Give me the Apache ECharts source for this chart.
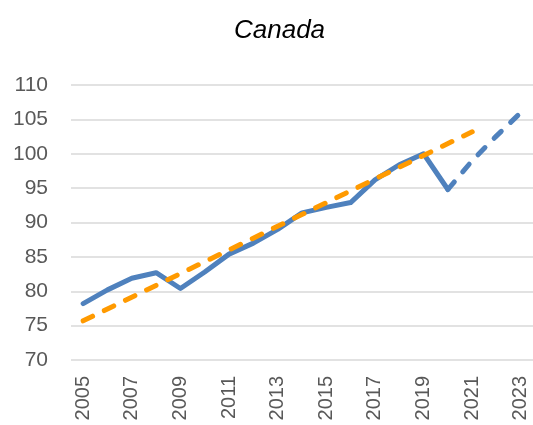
<!DOCTYPE html>
<html>
<head>
<meta charset="utf-8">
<style>
  html, body { margin: 0; padding: 0; background: #ffffff; }
  #chart { width: 533px; height: 425px; }
</style>
<script src="https://cdn.jsdelivr.net/npm/echarts@6/dist/echarts.min.js"></script>
</head>
<body>
<div id="chart"></div>
<script>
// Years on the horizontal axis
const years = ['2005','2006','2007','2008','2009','2010','2011','2012','2013','2014',
               '2015','2016','2017','2018','2019','2020','2021','2022','2023'];

// Observed index, 2005-2020
const actual = [78.2, 80.2, 81.9, 82.7, 80.4, 82.8, 85.4, 87.0, 89.0, 91.4,
                92.2, 92.9, 96.2, 98.4, 100.0, 94.8, null, null, null];

// Projected path, 2020-2023
const projected = [null, null, null, null, null, null, null, null, null, null,
                   null, null, null, null, null, 94.8, 99.0, 102.6, 106.0];

// Linear trend, 2005-2021 (endpoints; straight line between them)
const trend = [75.7, null, null, null, null, null, null, null, null, null,
               null, null, null, null, null, null, 103.2, null, null];

// Value axis range
const yMin = 70, yMax = 110, yStep = 5;

const blue = '#4f81bd';
const orange = '#ff9a00';
const labelColor = '#595959';
const font = '"Liberation Sans", Arial, sans-serif';

const chart = echarts.init(document.getElementById('chart'), null, { renderer: 'canvas' });

chart.setOption({
  animation: false,
  backgroundColor: '#ffffff',
  title: {
    text: 'Canada',
    left: 229,
    top: 13,
    textStyle: {
      fontFamily: font,
      fontStyle: 'italic',
      fontWeight: 'normal',
      fontSize: 26,
      color: '#000000'
    }
  },
  grid: { left: 71, right: 0, top: 85, bottom: 65, containLabel: false },
  xAxis: {
    type: 'category',
    data: years,
    boundaryGap: true,
    axisLine: { show: false },
    axisTick: { show: false },
    axisLabel: {
      interval: 1,
      rotate: 90,
      margin: 16,
      color: labelColor,
      fontFamily: font,
      fontSize: 20
    }
  },
  yAxis: {
    type: 'value',
    min: yMin,
    max: yMax,
    interval: yStep,
    axisLine: { show: false },
    axisTick: { show: false },
    axisLabel: {
      margin: 23,
      color: labelColor,
      fontFamily: font,
      fontSize: 21
    },
    splitLine: { lineStyle: { color: '#d9d9d9', width: 1.5 } }
  },
  series: [
    {
      name: 'Actual',
      type: 'line',
      data: actual,
      symbol: 'none',
      lineStyle: { color: blue, width: 5, join: 'round', cap: 'round' },
      z: 2
    },
    {
      name: 'Projected',
      type: 'line',
      data: projected,
      symbol: 'none',
      lineStyle: { color: blue, width: 5, type: [10, 13], cap: 'round' },
      z: 2
    },
    {
      name: 'Trend',
      type: 'line',
      data: trend,
      connectNulls: true,
      symbol: 'none',
      lineStyle: { color: orange, width: 5, type: [10.5, 13], cap: 'round' },
      z: 3
    }
  ]
});
</script>
</body>
</html>
